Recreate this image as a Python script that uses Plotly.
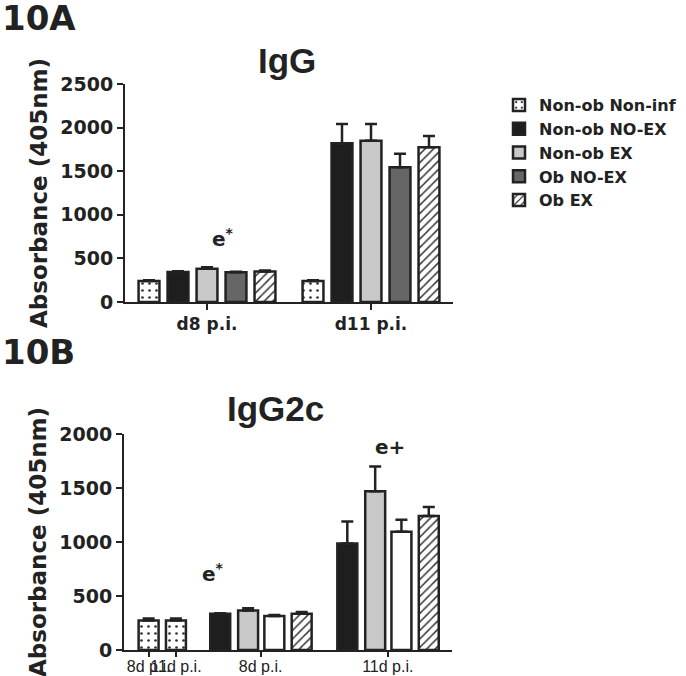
import plotly.graph_objects as go

# ---------------- data ----------------
series_names = ["Non-ob Non-inf", "Non-ob NO-EX", "Non-ob EX", "Ob NO-EX", "Ob EX"]

# Panel A (IgG)
igg_groups = ["d8 p.i.", "d11 p.i."]
igg_nonob_noninf = [240, 240]
igg_nonob_noninf_err = [10, 8]
igg_nonob_noex = [345, 1820]
igg_nonob_noex_err = [8, 220]
igg_nonob_ex = [380, 1850]
igg_nonob_ex_err = [18, 190]
igg_ob_noex = [340, 1545]
igg_ob_noex_err = [8, 155]
igg_ob_ex = [350, 1775]
igg_ob_ex_err = [10, 130]

# Panel B (IgG2c)
igg2c_ticklabels = ["8d p.i.", "11d p.i.", "8d p.i.", "11d p.i."]
igg2c_nonob_noninf = [272, 272]
igg2c_nonob_noninf_err = [20, 20]
igg2c_nonob_noex = [335, 985]
igg2c_nonob_noex_err = [5, 205]
igg2c_nonob_ex = [365, 1470]
igg2c_nonob_ex_err = [22, 230]
igg2c_ob_noex = [315, 1095]
igg2c_ob_noex_err = [8, 110]
igg2c_ob_ex = [335, 1240]
igg2c_ob_ex_err = [18, 85]

# ---------------- layout helpers (positions / styles) ----------------
W, H = 686, 676
INK = "#222222"
BOLD = dict(family="DejaVu Sans", weight="bold", color=INK)

def px_x(p):
    return p / W

def px_y(p):
    return (H - p) / H

# category positions along panel B's x axis (axis range 0..12)
b_tick_pos = [0.9, 1.9, 5.0, 9.65]
b_slot = [-1.48, -0.46, 0.5, 1.5]
b_width = 0.73

styles = [
    dict(color="white", pattern=dict(shape=".", fgcolor="#333333", bgcolor="white", size=7, solidity=0.12)),
    dict(color="#1e1e1e"),
    dict(color="#c8c8c8"),
    dict(color="#666666"),
    dict(color="white", pattern=dict(shape="/", fgcolor="#333333", bgcolor="white", size=6, solidity=0.25)),
]
styles_b = list(styles)
styles_b[3] = dict(color="white")

def err(vals):
    return dict(type="data", array=vals, arrayminus=[0] * len(vals), symmetric=False,
                color=INK, thickness=2.5, width=6)

fig = go.Figure()

top_vals = [igg_nonob_noninf, igg_nonob_noex, igg_nonob_ex, igg_ob_noex, igg_ob_ex]
top_errs = [igg_nonob_noninf_err, igg_nonob_noex_err, igg_nonob_ex_err, igg_ob_noex_err, igg_ob_ex_err]
for name, v, e, st in zip(series_names, top_vals, top_errs, styles):
    marker = dict(color=st["color"], line=dict(color=INK, width=2.5))
    if "pattern" in st:
        marker["pattern"] = st["pattern"]
    fig.add_trace(go.Bar(x=igg_groups, y=v, name=name, marker=marker, error_y=err(e),
                         xaxis="x", yaxis="y", showlegend=True))

# panel B
bot_vals = [igg2c_nonob_noninf, igg2c_nonob_noex, igg2c_nonob_ex, igg2c_ob_noex, igg2c_ob_ex]
bot_errs = [igg2c_nonob_noninf_err, igg2c_nonob_noex_err, igg2c_nonob_ex_err, igg2c_ob_noex_err, igg2c_ob_ex_err]
for i, (name, v, e, st) in enumerate(zip(series_names, bot_vals, bot_errs, styles_b)):
    marker = dict(color=st["color"], line=dict(color=INK, width=2.5))
    if "pattern" in st:
        marker["pattern"] = st["pattern"]
    if i == 0:
        xs = b_tick_pos[0:2]
        off = -b_width / 2
    else:
        xs = b_tick_pos[2:4]
        off = b_slot[i - 1] - b_width / 2
    fig.add_trace(go.Bar(x=xs, y=v, name=name, marker=marker, error_y=err(e),
                         offset=off, width=b_width, xaxis="x2", yaxis="y2", showlegend=False))

axis_common = dict(showline=True, linecolor=INK, linewidth=2, ticks="outside", tickcolor=INK,
                   tickwidth=2, showgrid=False, zeroline=False, automargin=False)

def note(text, x, y, size, family="DejaVu Sans", xanchor="center"):
    return dict(text=text, x=px_x(x), y=px_y(y), xref="paper", yref="paper", showarrow=False,
                xanchor=xanchor, yanchor="middle",
                font=dict(family=family, size=size, weight="bold", color=INK))

fig.update_layout(
    template="none",
    width=W, height=H, autosize=False,
    margin=dict(l=0, r=0, t=0, b=0, pad=0),
    paper_bgcolor="white", plot_bgcolor="white",
    barmode="group", bargap=0.116, bargroupgap=0.28,
    xaxis=dict(domain=[px_x(125), px_x(453)], anchor="y", type="category",
               ticklen=6, tickangle=0, tickfont=dict(size=17, **BOLD), ticklabelstandoff=0,
               **axis_common),
    yaxis=dict(domain=[px_y(302), px_y(84)], anchor="x", range=[0, 2500], tickvals=[0, 500, 1000, 1500, 2000, 2500],
               ticklen=6, tickfont=dict(size=19, **BOLD),
               title=dict(text="Absorbance (405nm)", font=dict(size=23, **BOLD), standoff=6),
               **axis_common),
    xaxis2=dict(domain=[px_x(124), px_x(452)], anchor="y2", range=[0, 12],
                tickvals=b_tick_pos, ticktext=igg2c_ticklabels, ticklen=5, tickangle=0, ticklabelstandoff=-4,
                tickfont=dict(family="Liberation Sans, Arial", size=16, color=INK), **axis_common),
    yaxis2=dict(domain=[px_y(650), px_y(434)], anchor="x2", range=[0, 2000], tickvals=[0, 500, 1000, 1500, 2000],
                ticklen=6, tickfont=dict(size=19, **BOLD),
                title=dict(text="Absorbance (405nm)", font=dict(size=23, **BOLD), standoff=6),
                **axis_common),
    legend=dict(x=px_x(499), y=px_y(88), xanchor="left", yanchor="top", font=dict(size=16, **BOLD),
                bgcolor="rgba(0,0,0,0)", traceorder="normal", borderwidth=0),
    annotations=[
        note("10A", 0, 18, 34, xanchor="left"),
        note("10B", 0, 352, 34, xanchor="left"),
        note("IgG", 287, 60, 35, family="Liberation Sans, Arial"),
        note("IgG2c", 275, 408, 35, family="Liberation Sans, Arial"),
        note("e<sup>*</sup>", 223, 238, 20),
        note("e<sup>*</sup>", 213, 573, 20),
        note("e+", 390, 447, 20),
    ],
)

fig.write_html("out.html", config={"displayModeBar": False},
               post_script="document.body.style.margin='0px';")
